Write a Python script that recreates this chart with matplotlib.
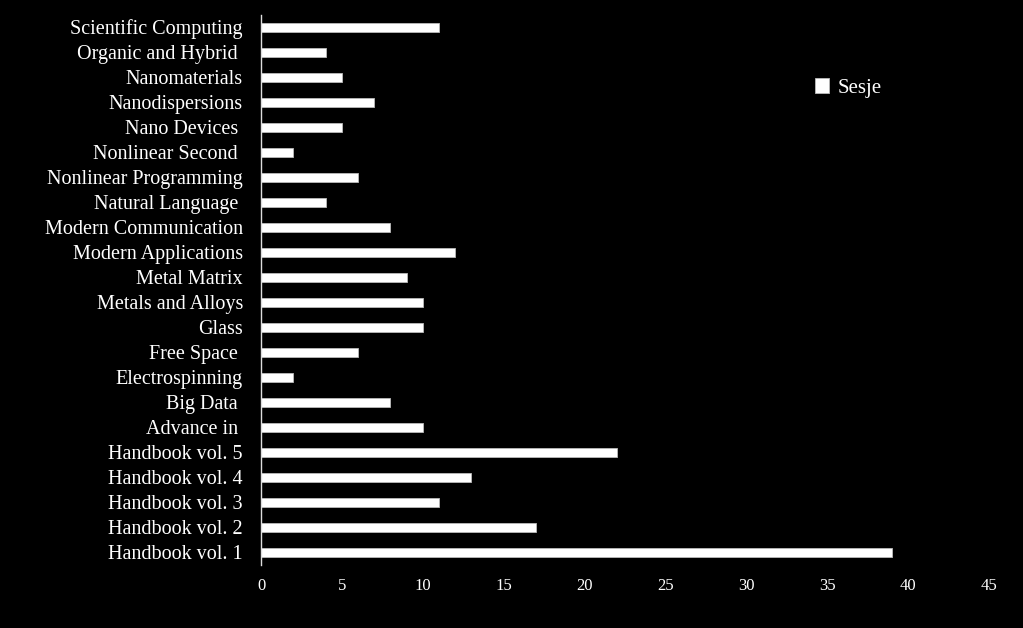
import matplotlib.pyplot as plt

categories = [
    "Handbook vol. 1", "Handbook vol. 2", "Handbook vol. 3", "Handbook vol. 4",
    "Handbook vol. 5", "Advance in ", "Big Data ", "Electrospinning", "Free Space ",
    "Glass", "Metals and Alloys", "Metal Matrix", "Modern Applications",
    "Modern Communication", "Natural Language ", "Nonlinear Programming",
    "Nonlinear Second ", "Nano Devices ", "Nanodispersions", "Nanomaterials",
    "Organic and Hybrid ", "Scientific Computing",
]
sesje = [39, 17, 11, 13, 22, 10, 8, 2, 6, 10, 10, 9, 12, 8, 4, 6, 2, 5, 7, 5, 4, 11]
x_ticks = [0, 5, 10, 15, 20, 25, 30, 35, 40, 45]

plt.rcParams["font.family"] = ["Liberation Serif", "DejaVu Serif"]

fig = plt.figure(figsize=(10.23, 6.28), dpi=100, facecolor="black")
ax = fig.add_axes([261 / 1023, 63.5 / 628, 728 / 1023, 550 / 628], facecolor="black")

ax.barh(range(len(categories)), sesje, height=0.36, color="white",
        edgecolor="#bbbbbb", linewidth=0.6, label="Sesje")

ax.set_xlim(0, 45)
ax.set_ylim(-0.5, len(categories) - 0.5)
ax.set_xticks(x_ticks)
ax.set_yticks(range(len(categories)))
ax.set_yticklabels(categories, fontsize=14.5, color="white")
ax.tick_params(axis="x", length=0, colors="white", labelsize=12, pad=10)
ax.tick_params(axis="y", length=0, pad=13)

for side in ["top", "right", "bottom"]:
    ax.spines[side].set_visible(False)
ax.spines["left"].set_color("#dddddd")
ax.spines["left"].set_linewidth(1.0)

leg = ax.legend(loc="upper left", bbox_to_anchor=(0.735, 0.918), frameon=False,
                fontsize=15, handlelength=0.7, handleheight=0.7, handletextpad=0.4)
for t in leg.get_texts():
    t.set_color("white")

fig.savefig("out.png", dpi=100, facecolor="black")
